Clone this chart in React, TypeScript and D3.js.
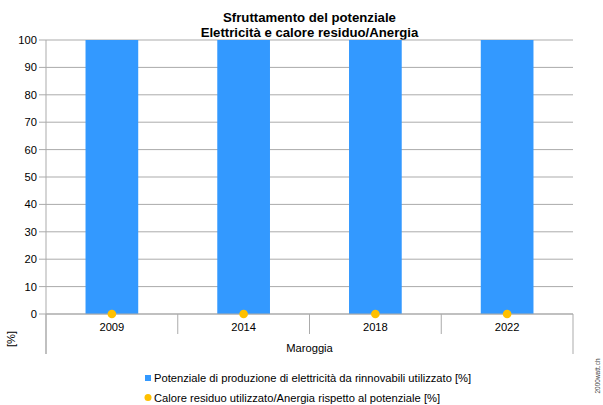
import React from "react";
import * as d3 from "d3";

const categories = ["2009", "2014", "2018", "2022"];
const groupLabel = "Maroggia";
const barValues = [100, 100, 100, 100];
const dotValues = [0, 0, 0, 0];
const yTicks = [0, 10, 20, 30, 40, 50, 60, 70, 80, 90, 100];
const titleLines = ["Sfruttamento del potenziale", "Elettricità e calore residuo/Anergia"];
const legendLabels = [
  "Potenziale di produzione di elettricità da rinnovabili utilizzato [%]",
  "Calore residuo utilizzato/Anergia rispetto al potenziale [%]",
];
const yLabel = "[%]";
const watermark = "2000watt.ch";

const W = 603;
const H = 405;
const left = 46;
const right = 573;
const top = 40;
const bottom = 314;
const FONT = "'Liberation Sans', Arial, sans-serif";
const BAR = "#3399FF";
const DOT = "#FFC000";
const GRID = "#ababab";

export default function App() {
  const x = d3.scaleBand<string>().domain(categories).range([left, right]).padding(0);
  const y = d3.scaleLinear().domain([0, 100]).range([bottom, top]);
  const bw = x.bandwidth() * 0.4;
  const boundaries = categories.map((c) => x(c) as number).concat([right]);

  return (
    <svg
      width={W}
      height={H}
      style={{ position: "absolute", left: 0, top: 0, background: "#fff" }}
      fontFamily={FONT}
    >
      <rect x={0} y={0} width={W} height={H} fill="#fff" />
      {titleLines.map((t, i) => (
        <text
          key={t}
          x={309.5}
          y={21.5 + i * 15}
          textAnchor="middle"
          fontSize={13.2}
          fontWeight="bold"
          fill="#000"
        >
          {t}
        </text>
      ))}
      {yTicks.map((t) => (
        <g key={t}>
          <line x1={39} x2={right} y1={y(t)} y2={y(t)} stroke={GRID} strokeWidth={1} />
          <text x={37} y={y(t) + 4} textAnchor="end" fontSize={11.2} fill="#000">
            {t}
          </text>
        </g>
      ))}
      {categories.map((c, i) => (
        <rect
          key={c}
          x={(x(c) as number) + x.bandwidth() / 2 - bw / 2}
          y={y(barValues[i])}
          width={bw}
          height={y(0) - y(barValues[i])}
          fill={BAR}
        />
      ))}
      <line x1={left} x2={right} y1={bottom} y2={bottom} stroke={GRID} />
      <line x1={left} x2={left} y1={top} y2={354} stroke={GRID} />
      {boundaries.map((b, i) => (
        <line
          key={i}
          x1={b}
          x2={b}
          y1={bottom}
          y2={i === 0 || i === boundaries.length - 1 ? 354 : 334}
          stroke={GRID}
        />
      ))}
      {categories.map((c, i) => (
        <circle
          key={c}
          cx={(x(c) as number) + x.bandwidth() / 2}
          cy={y(dotValues[i])}
          r={4.3}
          fill={DOT}
        />
      ))}
      {categories.map((c) => (
        <text
          key={c}
          x={(x(c) as number) + x.bandwidth() / 2}
          y={331}
          textAnchor="middle"
          fontSize={11.2}
          fill="#000"
        >
          {c}
        </text>
      ))}
      <text x={(left + right) / 2} y={351.5} textAnchor="middle" fontSize={11.2} fill="#000">
        {groupLabel}
      </text>
      <text
        transform={`translate(15,339) rotate(-90)`}
        textAnchor="middle"
        fontSize={11.2}
        fill="#000"
      >
        {yLabel}
      </text>
      <rect x={145} y={375} width={6} height={6} fill={BAR} />
      <text x={154} y={382} fontSize={11.2} fill="#000">
        {legendLabels[0]}
      </text>
      <circle cx={148} cy={397.5} r={3.5} fill={DOT} />
      <text x={154} y={401.5} fontSize={11.2} fill="#000">
        {legendLabels[1]}
      </text>
      <text
        transform={`translate(600,376) rotate(-90)`}
        textAnchor="middle"
        fontSize={6.5}
        fill="#444"
      >
        {watermark}
      </text>
    </svg>
  );
}
